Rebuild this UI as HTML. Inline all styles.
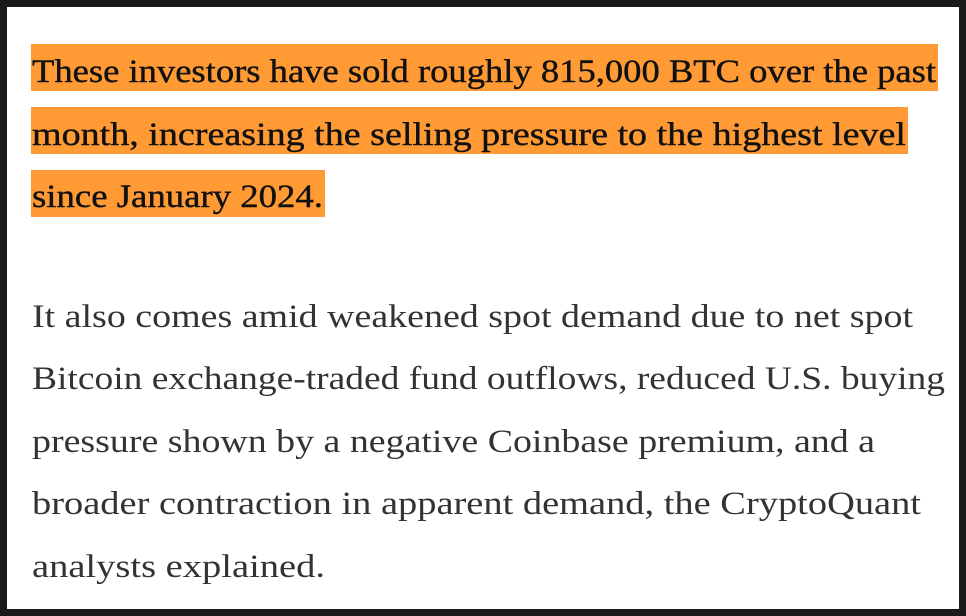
<!DOCTYPE html>
<html><head><meta charset="utf-8"><style>
html,body{margin:0;padding:0;background:#1a1a1a;}
svg{display:block;}
text{font-family:"Liberation Serif",serif;font-size:33px;}
</style></head><body>
<svg width="966" height="616" viewBox="0 0 966 616">
<rect x="0" y="0" width="966" height="616" fill="#1a1a1a"/>
<rect x="7" y="7" width="952" height="602" fill="#ffffff"/>
<g fill="#ff9a35">
<rect x="31" y="44" width="907" height="47"/>
<rect x="31" y="107" width="877" height="47"/>
<rect x="31" y="170" width="294" height="47"/>
</g>
<g fill="#111" stroke="#111" stroke-width="0.4">
<text x="32" y="82" textLength="904" lengthAdjust="spacingAndGlyphs">These investors have sold roughly 815,000 BTC over the past</text>
<text x="32" y="145" textLength="874" lengthAdjust="spacingAndGlyphs">month, increasing the selling pressure to the highest level</text>
<text x="32" y="207" textLength="291" lengthAdjust="spacingAndGlyphs">since January 2024.</text>
</g>
<g fill="#333">
<text x="32" y="327" textLength="881" lengthAdjust="spacingAndGlyphs">It also comes amid weakened spot demand due to net spot</text>
<text x="32" y="389" textLength="913" lengthAdjust="spacingAndGlyphs">Bitcoin exchange-traded fund outflows, reduced U.S. buying</text>
<text x="32" y="452" textLength="843" lengthAdjust="spacingAndGlyphs">pressure shown by a negative Coinbase premium, and a</text>
<text x="32" y="514" textLength="889" lengthAdjust="spacingAndGlyphs">broader contraction in apparent demand, the CryptoQuant</text>
<text x="32" y="577" textLength="293" lengthAdjust="spacingAndGlyphs">analysts explained.</text>
</g>
</svg>
</body></html>
